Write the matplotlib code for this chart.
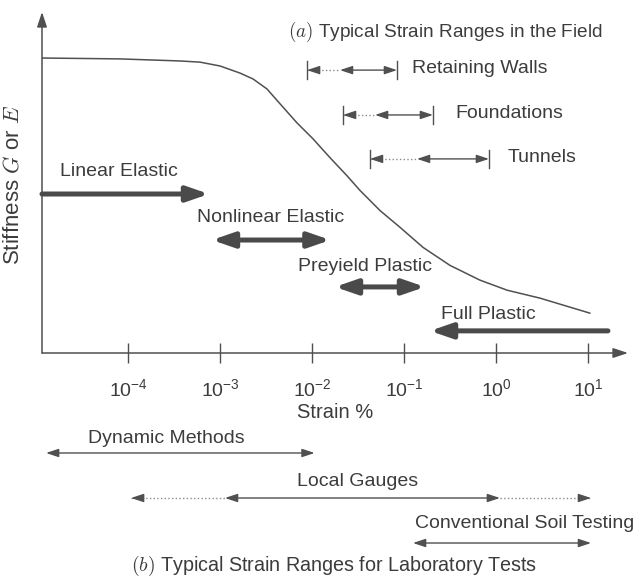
import numpy as np
import matplotlib
matplotlib.use('Agg')
import matplotlib.pyplot as plt
from matplotlib.ticker import NullLocator

plt.rcParams['font.family'] = ['Liberation Sans', 'DejaVu Sans']
plt.rcParams['mathtext.fontset'] = 'cm'

# 剛性低下曲線 (log10 strain %, stiffness normalised by the small-strain value)
curve_log_strain = [-4.935, -4.087, -3.435, -3.217, -3.000, -2.783, -2.641, -2.489,
                    -2.348, -2.163, -1.989, -1.804, -1.620, -1.478, -1.261, -1.043,
                    -0.793, -0.500, -0.174, 0.120, 0.478, 1.022]
curve_stiffness = [1.000, 0.997, 0.990, 0.986, 0.973, 0.949, 0.929, 0.895,
                   0.845, 0.780, 0.726, 0.662, 0.601, 0.551, 0.483, 0.426,
                   0.358, 0.297, 0.247, 0.213, 0.186, 0.135]

tick_exponents = [-4, -3, -2, -1, 0, 1]

# (a) field strain ranges: dotted from start to mid, solid from mid to end
field_names = ['Retaining Walls', 'Foundations', 'Tunnels']
field_start = [-2.054, -1.663, -1.370]
field_mid = [-1.696, -1.315, -0.859]
field_end = [-1.076, -0.685, -0.076]

# soil behaviour regions (thick arrows)
behaviour_names = ['Linear Elastic', 'Nonlinear Elastic', 'Preyield Plastic', 'Full Plastic']
behaviour_from = [-4.935, -3.087, -1.750, 1.217]
behaviour_to = [-3.120, -1.800, -0.772, -0.717]
behaviour_style = ['-|>', '<|-|>', '<|-|>', '-|>']

# (b) laboratory test ranges: dotted outer parts, solid inner part
lab_names = ['Dynamic Methods', 'Local Gauges', 'Conventional Soil Testing']
lab_start = [-4.891, -3.967, -0.902]
lab_solid_from = [-4.891, -2.946, -0.902]
lab_solid_to = [-1.972, 0.043, 1.033]
lab_end = [-1.972, 1.033, 1.033]

LINE = '#505050'
TEXT = '#3c3c3c'
DOT = '#8a8a8a'
FS = 14


def arrow(ax, x0, x1, y, style, lw=1.0, hl=0.75, hw=0.25, color=LINE):
    ax.annotate('', xy=(x1, y), xytext=(x0, y),
                arrowprops=dict(arrowstyle=f'{style},head_length={hl},head_width={hw}',
                                lw=lw, color=color, shrinkA=0, shrinkB=0,
                                mutation_scale=10))


def head(ax, x, y, direction):
    """矢印の頭だけを描く (direction: -1 = 左向き, +1 = 右向き)"""
    ax.annotate('', xy=(x, y), xytext=(-9 * direction, 0), textcoords='offset points',
                arrowprops=dict(arrowstyle='-|>,head_length=0.75,head_width=0.25',
                                lw=1.0, color=LINE, shrinkA=0, shrinkB=0,
                                mutation_scale=10))


def draw_main(ax):
    ax.set_xscale('log')
    ax.set_xlim(10 ** -4.935, 10 ** 1.435)
    ax.set_ylim(0, 1.156)
    for s in ax.spines.values():
        s.set_visible(False)

    # axes with arrow heads
    for tip in [(1, 0), (0, 1)]:
        ax.annotate('', xy=tip, xytext=(0, 0), xycoords='axes fraction',
                    arrowprops=dict(arrowstyle='-|>,head_length=0.9,head_width=0.3',
                                    lw=1.1, color=LINE, shrinkA=0, shrinkB=0,
                                    mutation_scale=10))

    ax.set_xticks(10.0 ** np.array(tick_exponents))
    ax.set_xticklabels([rf'$\mathregular{{10^{{{e}}}}}$' for e in tick_exponents])
    ax.xaxis.set_minor_locator(NullLocator())
    ax.tick_params(axis='x', direction='inout', length=15, width=1.0, color=LINE,
                   pad=11, labelsize=FS, labelcolor=TEXT)
    ax.set_yticks([])
    ax.set_xlabel('Strain %', fontsize=FS + 0.5, color=TEXT, labelpad=2)
    ax.set_ylabel('Stiffness $G$ or $E$', fontsize=16, color=TEXT)
    ax.yaxis.set_label_coords(-0.032, 0.493)

    # stiffness curve
    ax.plot(10.0 ** np.array(curve_log_strain), curve_stiffness, color=LINE, lw=1.1,
            solid_capstyle='round', solid_joinstyle='round')

    # field ranges
    ax.text(0.688, 1.090, '$(a)$ Typical Strain Ranges in the Field',
            transform=ax.get_yaxis_transform(), ha='center', va='center',
            fontsize=13.7, color=TEXT)
    field_y = [0.959, 0.807, 0.658]
    label_x = [-0.913, -0.446, 0.130]
    for name, x0, xm, x1, y, lx in zip(field_names, field_start, field_mid, field_end,
                                       field_y, label_x):
        ax.plot([10 ** x0, 10 ** xm], [y, y], ls=':', color=DOT, lw=1.0)
        head(ax, 10 ** x0, y, -1)
        arrow(ax, 10 ** xm, 10 ** x1, y, '<|-|>')
        for xb in (x0, x1):
            ax.plot([10 ** xb, 10 ** xb], [y - 0.03, y + 0.03], color=LINE, lw=1.0)
        ax.text(10 ** lx, y + 0.004, name, ha='left', va='center', fontsize=FS, color=TEXT)

    # behaviour regions
    arrow_y = [0.539, 0.383, 0.224, 0.075]
    text_pos = [(-4.739, 0.614), (-3.250, 0.461), (-2.152, 0.292), (-0.598, 0.129)]
    for name, x0, x1, st, y, (tx, ty) in zip(behaviour_names, behaviour_from, behaviour_to,
                                             behaviour_style, arrow_y, text_pos):
        arrow(ax, 10 ** x0, 10 ** x1, y, st, lw=3.6, hl=1.3, hw=0.45, color='#4a4a4a')
        ax.text(10 ** tx, ty, name, ha='left', va='center', fontsize=FS, color=TEXT)


def draw_lab(ax):
    ax.set_xscale('log')
    ax.set_xlim(10 ** -4.935, 10 ** 1.435)
    ax.set_ylim(2.822, -0.733)
    ax.axis('off')

    text_pos = [(-4.435, -0.333), (-2.163, 0.644), (-0.880, 1.556)]
    for row, (name, x0, xs, xe, x1) in enumerate(zip(lab_names, lab_start, lab_solid_from,
                                                     lab_solid_to, lab_end)):
        if x0 < xs:
            ax.plot([10 ** x0, 10 ** xs], [row, row], ls=':', color=DOT, lw=1.0)
            head(ax, 10 ** x0, row, -1)
        if xe < x1:
            ax.plot([10 ** xe, 10 ** x1], [row, row], ls=':', color=DOT, lw=1.0)
            head(ax, 10 ** x1, row, 1)
        arrow(ax, 10 ** xs, 10 ** xe, row, '<|-|>')
        tx, ty = text_pos[row]
        ax.text(10 ** tx, ty, name, ha='left', va='center', fontsize=FS, color=TEXT)

    ax.text(0.499, 2.52, '$(b)$ Typical Strain Ranges for Laboratory Tests',
            transform=ax.get_yaxis_transform(), ha='center', va='center',
            fontsize=14.2, color=TEXT)


def main():
    fig = plt.figure(figsize=(6.33, 5.80), dpi=100)
    left = 42 / 633
    width = (628 - 42) / 633
    ax = fig.add_axes([left, (580 - 353) / 580, width, (353 - 12) / 580])
    ax_lab = fig.add_axes([left, 0, width, 160 / 580])
    draw_main(ax)
    draw_lab(ax_lab)
    fig.savefig('out.png', dpi=100)


if __name__ == '__main__':
    main()
